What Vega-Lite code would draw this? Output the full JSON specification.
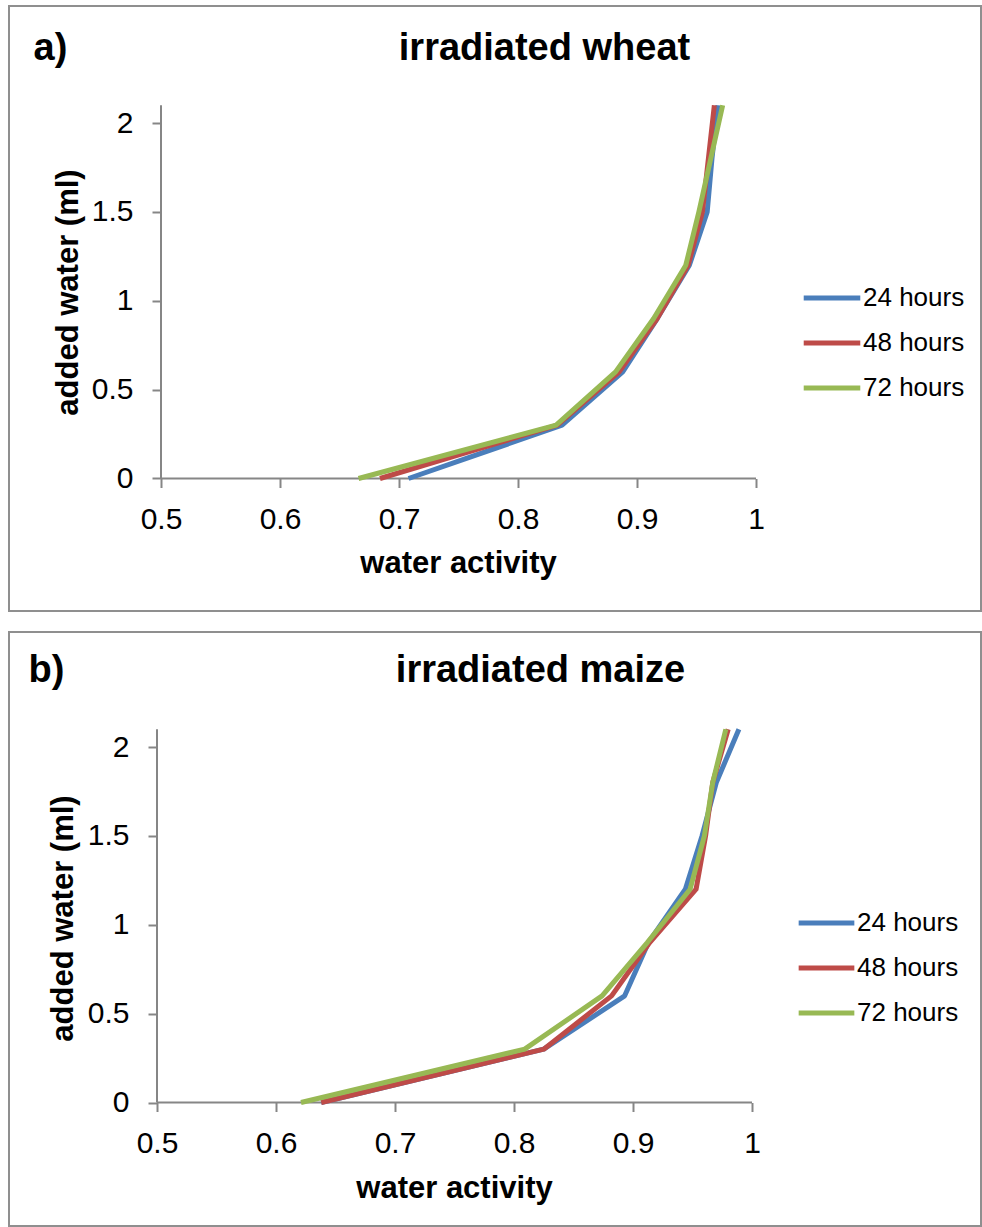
{
  "$schema": "https://vega.github.io/schema/vega-lite/v6.json",
  "padding": {"left": 8, "top": 5, "right": 0, "bottom": 0},
  "spacing": 19,
  "datasets": {
    "wheat": [
      {"series": "24 hours", "water": 0, "aw": 0.708},
      {"series": "24 hours", "water": 0.3, "aw": 0.837},
      {"series": "24 hours", "water": 0.6, "aw": 0.888},
      {"series": "24 hours", "water": 0.9, "aw": 0.917},
      {"series": "24 hours", "water": 1.2, "aw": 0.944},
      {"series": "24 hours", "water": 1.5, "aw": 0.959},
      {"series": "24 hours", "water": 1.8, "aw": 0.963},
      {"series": "24 hours", "water": 2.1, "aw": 0.968},
      {"series": "48 hours", "water": 0, "aw": 0.684},
      {"series": "48 hours", "water": 0.3, "aw": 0.833},
      {"series": "48 hours", "water": 0.6, "aw": 0.885},
      {"series": "48 hours", "water": 0.9, "aw": 0.917},
      {"series": "48 hours", "water": 1.2, "aw": 0.943},
      {"series": "48 hours", "water": 1.5, "aw": 0.955},
      {"series": "48 hours", "water": 1.8, "aw": 0.960},
      {"series": "48 hours", "water": 2.1, "aw": 0.965},
      {"series": "72 hours", "water": 0, "aw": 0.666},
      {"series": "72 hours", "water": 0.3, "aw": 0.832},
      {"series": "72 hours", "water": 0.6, "aw": 0.882},
      {"series": "72 hours", "water": 0.9, "aw": 0.914},
      {"series": "72 hours", "water": 1.2, "aw": 0.941},
      {"series": "72 hours", "water": 1.5, "aw": 0.952},
      {"series": "72 hours", "water": 1.8, "aw": 0.962},
      {"series": "72 hours", "water": 2.1, "aw": 0.972}
    ],
    "maize": [
      {"series": "24 hours", "water": 0, "aw": 0.638},
      {"series": "24 hours", "water": 0.3, "aw": 0.825},
      {"series": "24 hours", "water": 0.6, "aw": 0.893},
      {"series": "24 hours", "water": 0.9, "aw": 0.913},
      {"series": "24 hours", "water": 1.2, "aw": 0.944},
      {"series": "24 hours", "water": 1.5, "aw": 0.958},
      {"series": "24 hours", "water": 1.8, "aw": 0.970},
      {"series": "24 hours", "water": 2.1, "aw": 0.989},
      {"series": "48 hours", "water": 0, "aw": 0.638},
      {"series": "48 hours", "water": 0.3, "aw": 0.825},
      {"series": "48 hours", "water": 0.6, "aw": 0.882},
      {"series": "48 hours", "water": 0.9, "aw": 0.914},
      {"series": "48 hours", "water": 1.2, "aw": 0.953},
      {"series": "48 hours", "water": 1.5, "aw": 0.961},
      {"series": "48 hours", "water": 1.8, "aw": 0.967},
      {"series": "48 hours", "water": 2.1, "aw": 0.980},
      {"series": "72 hours", "water": 0, "aw": 0.621},
      {"series": "72 hours", "water": 0.3, "aw": 0.809},
      {"series": "72 hours", "water": 0.6, "aw": 0.874},
      {"series": "72 hours", "water": 0.9, "aw": 0.912},
      {"series": "72 hours", "water": 1.2, "aw": 0.948},
      {"series": "72 hours", "water": 1.5, "aw": 0.960},
      {"series": "72 hours", "water": 1.8, "aw": 0.967},
      {"series": "72 hours", "water": 2.1, "aw": 0.978}
    ]
  },
  "vconcat": [
    {
      "width": 972,
      "height": 605,
      "resolve": {"axis": {"x": "independent", "y": "independent"}},
      "layer": [
        {
          "data": {"values": [{}]},
          "mark": {"type": "rule", "color": "#868686", "strokeWidth": 2},
          "encoding": {
            "x": {"datum": 0.5, "type": "quantitative", "scale": {"domain": [0.372269, 1.189076], "nice": false, "zero": false},
              "axis": {"orient": "top", "offset": 0, "domain": false, "ticks": false, "labels": false, "grid": false,
                "title": "irradiated wheat", "titleX": 535, "titleY": 42, "titleAngle": 0, "titleAlign": "center", "titleBaseline": "middle",
                "titleFont": "Liberation Sans", "titleFontSize": 38, "titleFontWeight": "bold", "titleColor": "black"}},
            "y": {"datum": 0, "type": "quantitative", "scale": {"domain": [-0.74543, 2.65823], "nice": false, "zero": false},
              "axis": {"orient": "right", "offset": 0, "domain": false, "ticks": false, "labels": false, "grid": false,
                "title": "a)", "titleX": -931, "titleY": 42, "titleAngle": 0, "titleAlign": "center", "titleBaseline": "middle",
                "titleFont": "Liberation Sans", "titleFontSize": 38, "titleFontWeight": "bold", "titleColor": "black"}},
            "y2": {"datum": 2.1}
          }
        },
        {
          "data": {"values": [{}]},
          "mark": {"type": "rule", "color": "#868686", "strokeWidth": 2},
          "encoding": {
            "x": {"datum": 0.5, "type": "quantitative", "scale": {"domain": [0.372269, 1.189076], "nice": false, "zero": false}, "axis": null},
            "x2": {"datum": 1},
            "y": {"datum": 0, "type": "quantitative", "scale": {"domain": [-0.74543, 2.65823], "nice": false, "zero": false}, "axis": null}
          }
        },
        {
          "data": {"name": "wheat"},
          "mark": {"type": "line", "strokeWidth": 5, "strokeJoin": "round"},
          "encoding": {
            "x": {"field": "aw", "type": "quantitative", "scale": {"domain": [0.372269, 1.189076], "nice": false, "zero": false},
              "axis": {"orient": "bottom", "offset": -132.5, "values": [0.5, 0.6, 0.7, 0.8, 0.9, 1], "format": "~g",
                "domain": false, "grid": false, "tickSize": 9, "tickWidth": 2, "tickColor": "#868686",
                "labelFont": "Liberation Sans", "labelFontSize": 30, "labelColor": "black", "labelPadding": 17,
                "labelFlush": false, "labelOverlap": false,
                "title": "water activity", "titleX": 449, "titleY": 84.5, "titleAngle": 0, "titleAlign": "center", "titleBaseline": "middle",
                "titleFont": "Liberation Sans", "titleFontSize": 31, "titleFontWeight": "bold", "titleColor": "black"}},
            "y": {"field": "water", "type": "quantitative", "scale": {"domain": [-0.74543, 2.65823], "nice": false, "zero": false},
              "axis": {"orient": "left", "offset": -152, "values": [0, 0.5, 1, 1.5, 2], "format": "~g",
                "domain": false, "grid": false, "tickSize": 9, "tickWidth": 2, "tickColor": "#868686",
                "labelFont": "Liberation Sans", "labelFontSize": 30, "labelColor": "black", "labelPadding": 19,
                "labelFlush": false, "labelOverlap": false,
                "title": "added water (ml)", "titleX": -93, "titleY": 286, "titleAngle": -90, "titleAlign": "center", "titleBaseline": "middle",
                "titleFont": "Liberation Sans", "titleFontSize": 31, "titleFontWeight": "bold", "titleColor": "black"}},
            "color": {"field": "series", "type": "nominal",
              "scale": {"domain": ["24 hours", "48 hours", "72 hours"], "range": ["#4A7EBB", "#BE4B48", "#98B954"]},
              "legend": {"orient": "none", "legendX": 792, "legendY": 277, "title": null, "padding": 0,
                "symbolType": "stroke", "symbolSize": 3200, "symbolStrokeWidth": 5, "clipHeight": 30, "rowPadding": 15,
                "labelFont": "Liberation Sans", "labelFontSize": 26, "labelColor": "black", "labelOffset": 0}},
            "order": {"field": "water", "type": "quantitative"}
          }
        }
      ]
    },
    {
      "width": 972,
      "height": 594,
      "resolve": {"axis": {"x": "independent", "y": "independent"}},
      "layer": [
        {
          "data": {"values": [{}]},
          "mark": {"type": "rule", "color": "#868686", "strokeWidth": 2},
          "encoding": {
            "x": {"datum": 0.5, "type": "quantitative", "scale": {"domain": [0.37563, 1.192437], "nice": false, "zero": false},
              "axis": {"orient": "top", "offset": 0, "domain": false, "ticks": false, "labels": false, "grid": false,
                "title": "irradiated maize", "titleX": 531, "titleY": 38, "titleAngle": 0, "titleAlign": "center", "titleBaseline": "middle",
                "titleFont": "Liberation Sans", "titleFontSize": 38, "titleFontWeight": "bold", "titleColor": "black"}},
            "y": {"datum": 0, "type": "quantitative", "scale": {"domain": [-0.69479, 2.64698], "nice": false, "zero": false},
              "axis": {"orient": "right", "offset": 0, "domain": false, "ticks": false, "labels": false, "grid": false,
                "title": "b)", "titleX": -935, "titleY": 38, "titleAngle": 0, "titleAlign": "center", "titleBaseline": "middle",
                "titleFont": "Liberation Sans", "titleFontSize": 38, "titleFontWeight": "bold", "titleColor": "black"}},
            "y2": {"datum": 2.1}
          }
        },
        {
          "data": {"values": [{}]},
          "mark": {"type": "rule", "color": "#868686", "strokeWidth": 2},
          "encoding": {
            "x": {"datum": 0.5, "type": "quantitative", "scale": {"domain": [0.37563, 1.192437], "nice": false, "zero": false}, "axis": null},
            "x2": {"datum": 1},
            "y": {"datum": 0, "type": "quantitative", "scale": {"domain": [-0.69479, 2.64698], "nice": false, "zero": false}, "axis": null}
          }
        },
        {
          "data": {"name": "maize"},
          "mark": {"type": "line", "strokeWidth": 5, "strokeJoin": "round"},
          "encoding": {
            "x": {"field": "aw", "type": "quantitative", "scale": {"domain": [0.37563, 1.192437], "nice": false, "zero": false},
              "axis": {"orient": "bottom", "offset": -123.5, "values": [0.5, 0.6, 0.7, 0.8, 0.9, 1], "format": "~g",
                "domain": false, "grid": false, "tickSize": 9, "tickWidth": 2, "tickColor": "#868686",
                "labelFont": "Liberation Sans", "labelFontSize": 30, "labelColor": "black", "labelPadding": 17,
                "labelFlush": false, "labelOverlap": false,
                "title": "water activity", "titleX": 445, "titleY": 85.5, "titleAngle": 0, "titleAlign": "center", "titleBaseline": "middle",
                "titleFont": "Liberation Sans", "titleFontSize": 31, "titleFontWeight": "bold", "titleColor": "black"}},
            "y": {"field": "water", "type": "quantitative", "scale": {"domain": [-0.69479, 2.64698], "nice": false, "zero": false},
              "axis": {"orient": "left", "offset": -148, "values": [0, 0.5, 1, 1.5, 2], "format": "~g",
                "domain": false, "grid": false, "tickSize": 9, "tickWidth": 2, "tickColor": "#868686",
                "labelFont": "Liberation Sans", "labelFontSize": 30, "labelColor": "black", "labelPadding": 19,
                "labelFlush": false, "labelOverlap": false,
                "title": "added water (ml)", "titleX": -94, "titleY": 286, "titleAngle": -90, "titleAlign": "center", "titleBaseline": "middle",
                "titleFont": "Liberation Sans", "titleFontSize": 31, "titleFontWeight": "bold", "titleColor": "black"}},
            "color": {"field": "series", "type": "nominal",
              "scale": {"domain": ["24 hours", "48 hours", "72 hours"], "range": ["#4A7EBB", "#BE4B48", "#98B954"]},
              "legend": {"orient": "none", "legendX": 787, "legendY": 276, "title": null, "padding": 0,
                "symbolType": "stroke", "symbolSize": 3100, "symbolStrokeWidth": 5, "clipHeight": 30, "rowPadding": 15,
                "labelFont": "Liberation Sans", "labelFontSize": 26, "labelColor": "black", "labelOffset": 0}},
            "order": {"field": "water", "type": "quantitative"}
          }
        }
      ]
    }
  ],
  "resolve": {"scale": {"color": "independent"}, "legend": {"color": "independent"}},
  "config": {
    "view": {"stroke": "#8f8f8f", "strokeWidth": 2},
    "font": "Liberation Sans"
  }
}
